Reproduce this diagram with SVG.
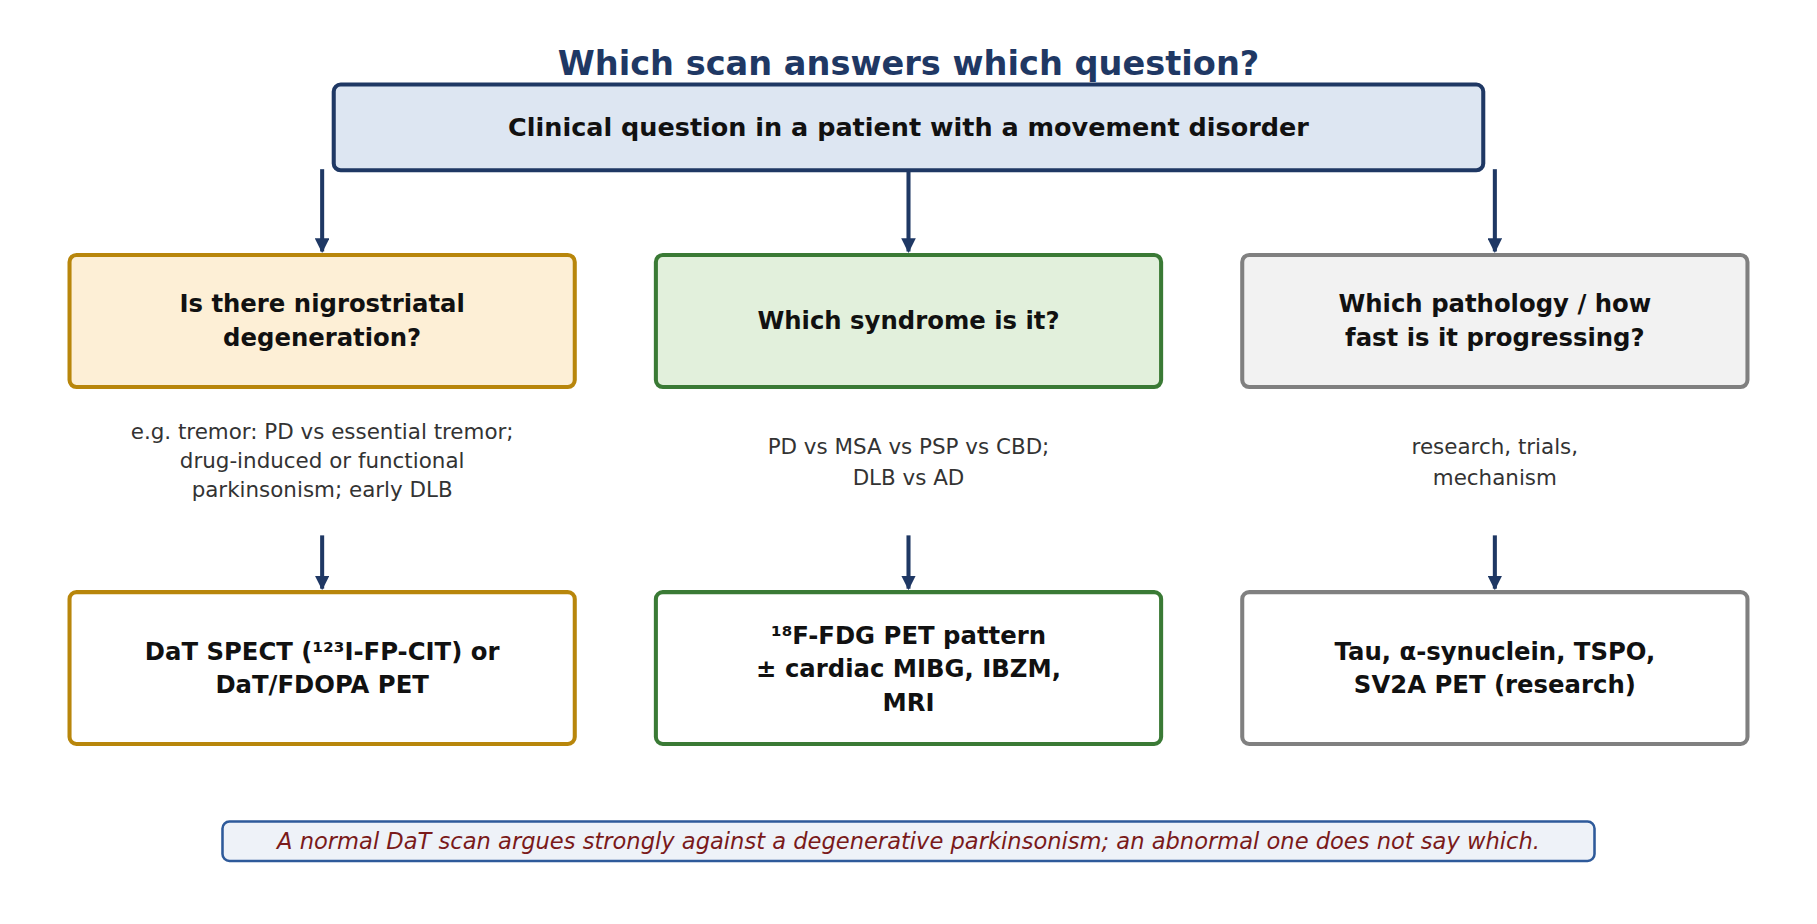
<svg xmlns="http://www.w3.org/2000/svg" width="1817" height="924" viewBox="0 0 1817 924">
<defs>
<marker id="ah" viewBox="0 0 10 10" refX="9" refY="5" markerWidth="3.6" markerHeight="3.6" orient="auto"><path d="M0,0 L10,5 L0,10 Z" fill="#1f3864"/></marker>
<style>
text{font-family:"DejaVu Sans",sans-serif;text-anchor:middle;dominant-baseline:central}
.b{font-weight:bold;font-size:21px;fill:#111}
.d{font-size:18.5px;fill:#333}
.c{stroke:#1f3864;stroke-width:3.5;fill:none;marker-end:url(#ah)}
.box{stroke-width:3.5}
</style>
</defs>
<rect width="1817" height="924" fill="#fff"/>
<g transform="scale(1.1588)">
<text x="784" y="55" style="font-weight:bold;font-size:29px;fill:#1f3864">Which scan answers which question?</text>
<g id="top"><rect x="288" y="73" width="992" height="74" rx="6" fill="#dde6f2" stroke="#1f3864" class="box"/><text x="784" y="110" class="b" style="font-size:22px">Clinical question in a patient with a movement disorder</text></g>
<g id="connectors">
<path class="c" d="M278,146V217"/><path class="c" d="M784,146V217"/><path class="c" d="M1290,146V217"/>
<path class="c" d="M278,462V508"/><path class="c" d="M784,462V508"/><path class="c" d="M1290,462V508"/>
</g>
<g id="q1"><rect x="60" y="220" width="436" height="114" rx="6" fill="#fdefd6" stroke="#b8860b" class="box"/><text x="278" y="262" class="b">Is there nigrostriatal</text><text x="278" y="291" class="b">degeneration?</text></g>
<g id="q2"><rect x="566" y="220" width="436" height="114" rx="6" fill="#e2f0dc" stroke="#3a7a35" class="box"/><text x="784" y="277" class="b">Which syndrome is it?</text></g>
<g id="q3"><rect x="1072" y="220" width="436" height="114" rx="6" fill="#f2f2f2" stroke="#808080" class="box"/><text x="1290" y="262" class="b">Which pathology / how</text><text x="1290" y="291" class="b">fast is it progressing?</text></g>
<g id="d1"><text x="278" y="372" class="d">e.g. tremor: PD vs essential tremor;</text><text x="278" y="397" class="d">drug-induced or functional</text><text x="278" y="422" class="d">parkinsonism; early DLB</text></g>
<g id="d2"><text x="784" y="385" class="d">PD vs MSA vs PSP vs CBD;</text><text x="784" y="412" class="d">DLB vs AD</text></g>
<g id="d3"><text x="1290" y="385" class="d">research, trials,</text><text x="1290" y="412" class="d">mechanism</text></g>
<g id="s1"><rect x="60" y="511" width="436" height="131" rx="6" fill="#fff" stroke="#b8860b" class="box"/><text x="278" y="562" class="b">DaT SPECT (¹²³I-FP-CIT) or</text><text x="278" y="591" class="b">DaT/FDOPA PET</text></g>
<g id="s2"><rect x="566" y="511" width="436" height="131" rx="6" fill="#fff" stroke="#3a7a35" class="box"/><text x="784" y="548" class="b">¹⁸F-FDG PET pattern</text><text x="784" y="577" class="b">± cardiac MIBG, IBZM,</text><text x="784" y="606" class="b">MRI</text></g>
<g id="s3"><rect x="1072" y="511" width="436" height="131" rx="6" fill="#fff" stroke="#808080" class="box"/><text x="1290" y="562" class="b">Tau, α-synuclein, TSPO,</text><text x="1290" y="591" class="b">SV2A PET (research)</text></g>
<g id="note"><rect x="192" y="709" width="1184" height="34" rx="6" fill="#eef2f8" stroke="#2e5a9a" stroke-width="2.2"/><text x="784" y="726" style="font-style:italic;font-size:19.5px;fill:#7a1a1a">A normal DaT scan argues strongly against a degenerative parkinsonism; an abnormal one does not say which.</text></g>
</g>
</svg>
